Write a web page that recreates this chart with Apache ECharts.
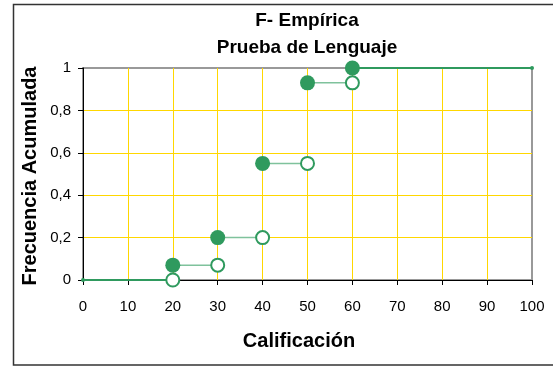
<!DOCTYPE html>
<html><head><meta charset="utf-8">
<script src="https://cdn.jsdelivr.net/npm/echarts@6/dist/echarts.min.js"></script>
<style>html,body{margin:0;padding:0;background:#fff}#c{width:553px;height:368px}</style>
</head><body><div id="c"></div>
<script>
const stepStarts = [0, 20, 30, 40, 50, 60];
const stepEnds = [20, 30, 40, 50, 60, 100];
const stepValues = [0, 0.07, 0.2, 0.55, 0.93, 1];
const xTicks = [0,10,20,30,40,50,60,70,80,90,100];
const yTicks = [0,0.2,0.4,0.6,0.8,1];
const titleLines = ['F- Empírica', 'Prueba de Lenguaje'];
const xTitle = 'Calificación';
const yTitle = 'Frecuencia Acumulada';

const GREEN = '#2f9a5e';
const LIGHT = '#7fc29c';
const FONT = "'Liberation Sans', Arial, sans-serif";

const series = [];
stepStarts.forEach((s, i) => {
  const outer = (i === 0 || i === stepStarts.length - 1);
  series.push({
    type: 'line', data: [[s, stepValues[i]], [stepEnds[i], stepValues[i]]],
    symbol: 'none', silent: true, z: 2,
    lineStyle: { color: outer ? GREEN : LIGHT, width: outer ? 2 : 1.5 }
  });
});
series.push({
  type: 'scatter', z: 4, symbol: 'circle', symbolSize: 15,
  itemStyle: { color: GREEN, opacity: 1 },
  data: stepStarts.slice(1).map((s, i) => [s, stepValues[i + 1]])
});
series.push({
  type: 'scatter', z: 4, symbol: 'circle', symbolSize: 13,
  itemStyle: { color: '#fff', borderColor: GREEN, borderWidth: 2, opacity: 1 },
  data: stepEnds.slice(0, -1).map((e, i) => [e, stepValues[i]])
});
series.push({
  type: 'scatter', z: 3, symbol: 'circle', symbolSize: 4,
  itemStyle: { color: GREEN, opacity: 1 },
  data: [[stepStarts[0], stepValues[0]], [stepEnds[stepEnds.length - 1], stepValues[stepValues.length - 1]]]
});

const boldText = { fontFamily: FONT, fontSize: 20, fontWeight: 'bold', fill: '#000' };

const chart = echarts.init(document.getElementById('c'), null, { renderer: 'canvas' });
chart.setOption({
  animation: false,
  backgroundColor: '#fff',
  graphic: [
    { type: 'rect', shape: { x: 13.5, y: 4.5, width: 560, height: 360.5 }, silent: true, z: -1,
      style: { fill: null, stroke: '#333', lineWidth: 1.5 } },
    { type: 'text', x: 307, y: 21, silent: true,
      style: Object.assign({ text: titleLines[0], align: 'center', verticalAlign: 'middle' }, boldText, { fontSize: 19 }) },
    { type: 'text', x: 307, y: 48, silent: true,
      style: Object.assign({ text: titleLines[1], align: 'center', verticalAlign: 'middle' }, boldText, { fontSize: 19 }) },
    { type: 'text', x: 299, y: 341, silent: true,
      style: Object.assign({ text: xTitle, align: 'center', verticalAlign: 'middle' }, boldText) },
    { type: 'text', x: 30, y: 176, rotation: Math.PI / 2, silent: true,
      style: Object.assign({ text: yTitle, align: 'center', verticalAlign: 'middle' }, boldText) }
  ],
  grid: { left: 83, right: 21, top: 68, bottom: 88, show: true, borderColor: '#999', borderWidth: 2, backgroundColor: 'transparent' },
  xAxis: {
    type: 'value', min: 0, max: 100, interval: 10,
    axisLine: { show: true, lineStyle: { color: '#000', width: 1 } },
    axisTick: { show: true, length: 5, lineStyle: { color: '#000' } },
    axisLabel: { fontFamily: FONT, fontSize: 15, color: '#000', margin: 19,
      formatter: v => xTicks.includes(v) ? String(v) : '' },
    splitLine: { show: true, showMinLine: false, showMaxLine: false, lineStyle: { color: '#FFD700', width: 1 } }
  },
  yAxis: {
    type: 'value', min: 0, max: 1, interval: 0.2,
    axisLine: { show: true, lineStyle: { color: '#000', width: 1 } },
    axisTick: { show: true, length: 5, lineStyle: { color: '#000' } },
    axisLabel: { fontFamily: FONT, fontSize: 15, color: '#000', margin: 12,
      formatter: v => { const t = yTicks.find(y => Math.abs(y - v) < 1e-9); return t === undefined ? '' : String(t).replace('.', ','); } },
    splitLine: { show: true, showMinLine: false, showMaxLine: false, lineStyle: { color: '#FFD700', width: 1 } }
  },
  series: series
});
</script></body></html>
